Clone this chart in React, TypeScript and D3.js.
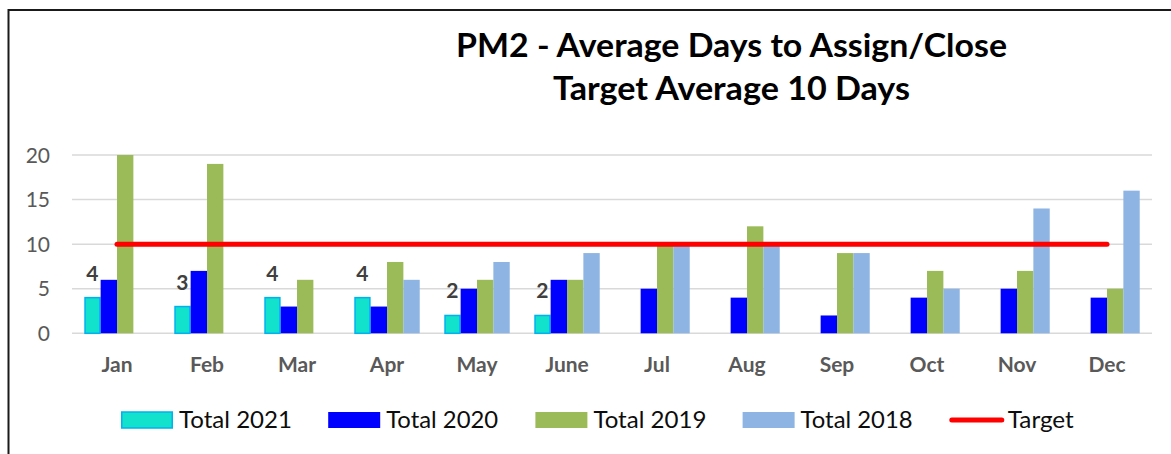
import React from "react";
import * as d3 from "d3";

const months = ["Jan", "Feb", "Mar", "Apr", "May", "June", "Jul", "Aug", "Sep", "Oct", "Nov", "Dec"];
const series = ["Total 2021", "Total 2020", "Total 2019", "Total 2018"];
const total2021: (number | null)[] = [4, 3, 4, 4, 2, 2, null, null, null, null, null, null];
const total2020: (number | null)[] = [6, 7, 3, 3, 5, 6, 5, 4, 2, 4, 5, 4];
const total2019: (number | null)[] = [20, 19, 6, 8, 6, 6, 10, 12, 9, 7, 7, 5];
const total2018: (number | null)[] = [null, null, null, 6, 8, 9, 10, 10, 9, 5, 14, 16];
const target: number[] = [10, 10, 10, 10, 10, 10, 10, 10, 10, 10, 10, 10];
const yTicks = [0, 5, 10, 15, 20];
const titleLines = ["PM2 - Average Days to Assign/Close", "Target Average 10 Days"];

const seriesValues = [total2021, total2020, total2019, total2018];
const fills = ["#12E2CB", "#0000FF", "#9BBB59", "#8EB4E3"];
const strokes = ["#00B0F0", "none", "none", "none"];

export default function App() {
  const W = 1171;
  const H = 454;
  const x = d3.scaleBand<string>().domain(months).range([72, 1152]).padding(0);
  const xi = d3.scaleBand<string>().domain(series).range([0, x.bandwidth()]).paddingInner(0).paddingOuter(0.75);
  const y = d3.scaleLinear().domain([0, 20]).range([333.3, 155]);
  const font = "Lato, 'Open Sans', sans-serif";

  const line = d3
    .line<number>()
    .x((_, i) => (x(months[i]) as number) + x.bandwidth() / 2)
    .y((d) => y(d));

  const legendItems = [
    { label: series[0], type: "rect", i: 0 },
    { label: series[1], type: "rect", i: 1 },
    { label: series[2], type: "rect", i: 2 },
    { label: series[3], type: "rect", i: 3 },
    { label: "Target", type: "line", i: 4 },
  ];
  const legendTextLen = [113, 112, 113, 112, 66];
  const titleLen = [551, 357];

  return (
    <svg
      width={W}
      height={H}
      style={{ position: "absolute", left: 0, top: 0, background: "#fff" }}
      fontFamily={font}
    >
      <rect x={0} y={0} width={W} height={H} fill="#fff" />
      <rect x={8.5} y={10} width={1300} height={600} fill="none" stroke="#1a1a1a" strokeWidth={2} />
      {titleLines.map((t, i) => (
        <text
          key={t}
          x={731.5}
          y={57 + i * 43}
          textAnchor="middle"
          fontSize={33}
          fontWeight={700}
          fill="#000"
          textLength={titleLen[i]}
          lengthAdjust="spacingAndGlyphs"
        >
          {t}
        </text>
      ))}
      {yTicks.map((t) => (
        <g key={t}>
          <line x1={72} x2={1152} y1={y(t)} y2={y(t)} stroke="#D9D9D9" strokeWidth={1.5} />
          <text x={50} y={y(t)} dy="0.36em" textAnchor="end" fontSize={21} fill="#595959">
            {t}
          </text>
        </g>
      ))}
      {months.map((m, mi) => (
        <g key={m} transform={`translate(${x(m)},0)`}>
          {seriesValues.map((vals, si) => {
            const v = vals[mi];
            if (v == null) return null;
            const bx = xi(series[si]) as number;
            const bw = xi.bandwidth();
            return (
              <rect
                key={si}
                x={bx + (strokes[si] !== "none" ? 0.75 : 0)}
                y={y(v)}
                width={bw - (strokes[si] !== "none" ? 1.5 : 0)}
                height={y(0) - y(v)}
                fill={fills[si]}
                stroke={strokes[si]}
                strokeWidth={1.5}
              />
            );
          })}
          {total2021[mi] != null && (
            <text
              x={(xi(series[0]) as number) + xi.bandwidth() / 2}
              y={y(total2021[mi] as number) - 17}
              textAnchor="middle"
              fontSize={21}
              fontWeight={700}
              fill="#404040"
            >
              {total2021[mi]}
            </text>
          )}
          <text
            x={x.bandwidth() / 2}
            y={372}
            textAnchor="middle"
            fontSize={21}
            fontWeight={700}
            fill="#595959"
          >
            {m}
          </text>
        </g>
      ))}
      <path d={line(target) as string} fill="none" stroke="#FF0000" strokeWidth={5} strokeLinecap="round" />
      {legendItems.map((it, k) => {
        const lx = 121 + k * 207.2;
        return (
          <g key={it.label}>
            {it.type === "rect" ? (
              <rect
                x={lx + (it.i === 0 ? 0.75 : 0)}
                y={412}
                width={52 - (it.i === 0 ? 1.5 : 0)}
                height={16}
                fill={fills[it.i]}
                stroke={strokes[it.i]}
                strokeWidth={1.5}
              />
            ) : (
              <line x1={lx + 2} x2={lx + 52} y1={420} y2={420} stroke="#FF0000" strokeWidth={5} strokeLinecap="round" />
            )}
            <text
              x={lx + 58}
              y={420}
              dy="0.36em"
              fontSize={23}
              fill="#0d0d0d"
              textLength={legendTextLen[k]}
              lengthAdjust="spacingAndGlyphs"
            >
              {it.label}
            </text>
          </g>
        );
      })}
    </svg>
  );
}
